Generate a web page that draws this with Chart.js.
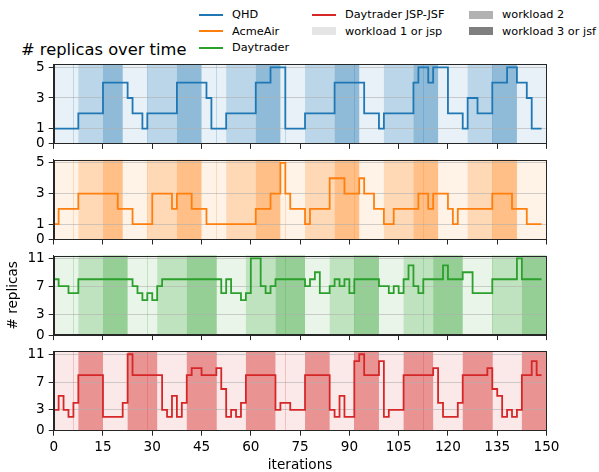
<!DOCTYPE html>
<html>
<head>
<meta charset="utf-8">
<script src="https://cdn.jsdelivr.net/npm/chart.js@4.4.0/dist/chart.umd.min.js"></script>
<style>
  body { margin: 0; background: #fff; }
  #fig { position: relative; width: 599px; height: 472px; font-family: 'DejaVu Sans', sans-serif; color: #000; overflow: hidden; }
  #fig canvas { position: absolute; left: 0; }
  .title { position: absolute; left: 21px; top: 42px; font-size: 16.3px; line-height: 1; white-space: nowrap; }
  .leg { position: absolute; height: 16px; display: flex; align-items: center; font-size: 11.3px; line-height: 1; white-space: nowrap; }
  .leg .line { width: 24px; height: 2px; margin-right: 9px; }
  .leg .patch { width: 24px; height: 8px; margin-right: 9px; }
</style>
</head>
<body>
<div id="fig">
  <div class="title"># replicas over time</div>
</div>
<script>
'use strict';

/*===== Data =====*/
const xMax = 150;
const xStep = 15;

const seriesNames = ['QHD', 'AcmeAir', 'Daytrader', 'Daytrader JSP-JSF'];
const seriesColors = ['#1f77b4', '#ff7f0e', '#2ca02c', '#d62728'];

// replicas change points (iteration, value), drawn as steps
const qhdIters = [0, 7.5, 15, 22.5, 24, 27, 28.5, 37.5, 46.5, 48, 52.5, 61.5, 66, 70.5, 76.5, 85.5, 94.5, 99, 100.5, 109.5, 111, 114, 115.5, 120, 124.5, 126, 129, 133.5, 138, 141, 144, 145.5, 148.5];
const qhdReplicas = [1, 2, 4, 3, 2, 1, 2, 4, 3, 1, 2, 4, 5, 1, 2, 4, 2, 1, 2, 4, 5, 4, 5, 2, 1, 3, 2, 4, 5, 4, 3, 1, 1];

const acmeIters = [0, 1.5, 7.5, 19.5, 24, 30, 36, 37.5, 42, 46.5, 61.5, 66, 69, 70.5, 72, 76.5, 78, 84, 88.5, 93, 94.5, 97.5, 100.5, 103.5, 111, 114, 115.5, 120, 121.5, 123, 133.5, 139.5, 144, 148.5];
const acmeReplicas = [1, 2, 3, 2, 1, 3, 2, 3, 2, 1, 2, 3, 5, 3, 2, 1, 2, 4, 3, 4, 3, 2, 1, 2, 3, 2, 3, 2, 1, 2, 3, 2, 1, 1];

const dayIters = [0, 1.5, 4.5, 7.5, 24, 25.5, 27, 28.5, 30, 31.5, 33, 51, 52.5, 54, 57, 58.5, 60, 63, 64.5, 66, 67.5, 76.5, 78, 79.5, 81, 84, 85.5, 87, 88.5, 90, 91.5, 99, 102, 103.5, 105, 106.5, 108, 109.5, 111, 112.5, 118.5, 120, 124.5, 127.5, 133.5, 141, 142.5, 148.5];
const dayReplicas = [8, 7, 6, 8, 7, 6, 5, 6, 5, 7, 8, 6, 8, 6, 5, 6, 11, 7, 6, 7, 8, 7, 8, 9, 6, 7, 8, 7, 8, 6, 8, 7, 6, 7, 6, 8, 10, 7, 6, 8, 10, 8, 9, 6, 8, 11, 8, 8];

const jspIters = [0, 1.5, 3, 4.5, 6, 7.5, 15, 21, 22.5, 24, 33, 34.5, 36, 37.5, 39, 40.5, 42, 45, 49.5, 51, 52.5, 54, 55.5, 57, 58.5, 67.5, 69, 72, 76.5, 84, 85.5, 87, 88.5, 91.5, 93, 94.5, 99, 100.5, 102, 106.5, 115.5, 117, 118.5, 123, 124.5, 132, 133.5, 135, 136.5, 138, 139.5, 141, 142.5, 145.5, 147, 148.5];
const jspReplicas = [3, 5, 3, 2, 4, 8, 2, 4, 11, 8, 3, 2, 5, 2, 4, 8, 9, 8, 9, 6, 2, 3, 2, 4, 8, 3, 4, 3, 8, 3, 2, 5, 2, 10, 11, 8, 10, 2, 3, 8, 9, 4, 2, 4, 8, 9, 6, 5, 2, 3, 2, 3, 8, 10, 8, 8];

// workload phases: edges + level (1 = workload 1 / jsp, 2 = workload 2, 3 = workload 3 / jsf)
const phaseEdgesA = [0, 7.5, 15, 21, 28.5, 37.5, 45, 52.5, 61.5, 69, 76.5, 85.5, 93, 100.5, 109.5, 117, 126, 133.5, 141, 150];
const phaseLevelsA = [1, 2, 3, 1, 2, 3, 1, 2, 3, 1, 2, 3, 1, 2, 3, 1, 2, 3, 1];
const phaseEdgesB = [0, 7.5, 15, 22.5, 31.5, 40.5, 49.5, 58.5, 67.5, 76.5, 84, 91.5, 99, 106.5, 115.5, 124.5, 133.5, 142.5, 150];
const phaseLevelsDay = [1, 2, 3, 1, 2, 3, 1, 2, 3, 1, 2, 3, 1, 2, 3, 1, 2, 3];
const phaseLevelsJsp = [1, 3, 1, 3, 1, 3, 1, 3, 1, 3, 1, 3, 1, 3, 1, 3, 1, 3];

const markerIters = [6, 28.5, 49.5, 70.5, 91.5, 112.5, 133.5];

const smallTicks = [0, 1, 3, 5];
const bigTicks = [0, 3, 7, 11];

const legendLabels = ['QHD', 'AcmeAir', 'Daytrader', 'Daytrader JSP-JSF', 'workload 1 or jsp', 'workload 2', 'workload 3 or jsf'];

/*===== Styles =====*/
const levelAlpha = [0, 0.1, 0.3, 0.5];
const frameColor = '#262626';
const gridColor = 'rgba(176,176,176,0.6)';
const tickFont = { family: "'DejaVu Sans'", size: 13.6 };

function rgba(hex, a) {
  const n = parseInt(hex.slice(1), 16);
  return `rgba(${n >> 16},${(n >> 8) & 255},${n & 255},${a})`;
}

const panels = [
  { iters: qhdIters, vals: qhdReplicas, yMax: 5.2, yTicks: smallTicks, edges: phaseEdgesA, levels: phaseLevelsA },
  { iters: acmeIters, vals: acmeReplicas, yMax: 5.2, yTicks: smallTicks, edges: phaseEdgesA, levels: phaseLevelsA },
  { iters: dayIters, vals: dayReplicas, yMax: 11.4, yTicks: bigTicks, edges: phaseEdgesB, levels: phaseLevelsDay, yTitle: '# replicas' },
  { iters: jspIters, vals: jspReplicas, yMax: 11.45, yTicks: bigTicks, edges: phaseEdgesB, levels: phaseLevelsJsp }
];

/*===== Legend (3 columns, filled column by column) =====*/
const fig = document.getElementById('fig');
const legCols = [199, 312, 469];
const legRows = [14.5, 31.2, 47.9];
const legPlace = [[0, 0], [0, 1], [0, 2], [1, 0], [1, 1], [2, 0], [2, 1]];
legendLabels.forEach((label, i) => {
  const item = document.createElement('div');
  item.className = 'leg';
  item.style.left = legCols[legPlace[i][0]] + 'px';
  item.style.top = (legRows[legPlace[i][1]] - 8) + 'px';
  const handle = document.createElement('span');
  if (i < 4) {
    handle.className = 'line';
    handle.style.background = seriesColors[i];
  } else {
    handle.className = 'patch';
    handle.style.background = rgba('#000000', levelAlpha[i - 3]);
  }
  const txt = document.createElement('span');
  txt.textContent = label;
  item.appendChild(handle);
  item.appendChild(txt);
  fig.appendChild(item);
});

/*===== Panels =====*/
const panelTop = [64.3, 159.9, 255.5, 351.1];
const plotHeight = 79.6;

function makePanel(i) {
  const p = panels[i];
  const last = i === panels.length - 1;
  const color = seriesColors[i];

  const canvasTop = Math.floor(panelTop[i]) - 4;
  const padTop = panelTop[i] - canvasTop;
  const h = last ? 472 - canvasTop : 92;
  const xAxisHeight = h - padTop - plotHeight;

  const canvas = document.createElement('canvas');
  canvas.width = 599;
  canvas.height = h;
  canvas.style.top = canvasTop + 'px';
  fig.appendChild(canvas);

  const phasePlugin = {
    id: 'phases' + i,
    beforeDraw(chart) {
      const { ctx, chartArea: a, scales: { x } } = chart;
      ctx.save();
      for (let k = 0; k < p.levels.length; k++) {
        const x0 = x.getPixelForValue(p.edges[k]);
        const x1 = x.getPixelForValue(p.edges[k + 1]);
        ctx.fillStyle = rgba(color, levelAlpha[p.levels[k]]);
        ctx.fillRect(x0, a.top, x1 - x0, a.bottom - a.top);
      }
      ctx.restore();
    },
    beforeDatasetsDraw(chart) {
      const { ctx, chartArea: a, scales: { x } } = chart;
      ctx.save();
      ctx.strokeStyle = rgba(color, 0.22);
      ctx.lineWidth = 1;
      markerIters.forEach(m => {
        const px = Math.round(x.getPixelForValue(m)) + 0.5;
        ctx.beginPath();
        ctx.moveTo(px, a.top);
        ctx.lineTo(px, a.bottom);
        ctx.stroke();
      });
      ctx.restore();
    },
    afterDraw(chart) {
      const { ctx, chartArea: a } = chart;
      ctx.save();
      ctx.strokeStyle = frameColor;
      ctx.lineWidth = 1;
      const l = Math.round(a.left) + 0.5, r = Math.round(a.right) - 0.5;
      const t = Math.round(a.top) + 0.5, b = Math.round(a.bottom) - 0.5;
      ctx.strokeRect(l, t, r - l, b - t);
      ctx.restore();
    }
  };

  const noPad = axis => {
    axis.paddingTop = 0; axis.paddingBottom = 0;
    axis.paddingLeft = 0; axis.paddingRight = 0;
  };

  return new Chart(canvas.getContext('2d'), {
    type: 'line',
    data: {
      datasets: [{
        label: seriesNames[i],
        data: p.iters.map((it, k) => ({ x: it, y: p.vals[k] })),
        borderColor: color,
        borderWidth: 1.8,
        pointRadius: 0,
        stepped: 'before',
        fill: false
      }]
    },
    options: {
      responsive: false,
      animation: false,
      devicePixelRatio: 1,
      layout: { padding: { left: 0, right: 52.5, top: padTop, bottom: 0 } },
      plugins: {
        legend: { display: false },
        tooltip: { enabled: false }
      },
      scales: {
        x: {
          type: 'linear',
          min: 0,
          max: xMax,
          afterFit: axis => { axis.height = xAxisHeight; noPad(axis); },
          ticks: { stepSize: xStep, display: last, font: tickFont, color: '#000', padding: 3.5, maxRotation: 0, autoSkip: false },
          grid: { drawOnChartArea: false, drawTicks: true, tickLength: 5, color: frameColor, tickColor: frameColor },
          border: { color: frameColor, width: 1 },
          title: { display: last, text: 'iterations', font: tickFont, color: '#000', padding: { top: 0, bottom: -2 } }
        },
        y: {
          min: 0,
          max: p.yMax,
          afterBuildTicks: axis => { axis.ticks = p.yTicks.map(v => ({ value: v })); },
          afterFit: axis => { axis.width = 53.7; noPad(axis); },
          ticks: { font: tickFont, color: '#000', padding: 4 },
          grid: { color: gridColor, lineWidth: 1, tickLength: 5, tickColor: frameColor },
          border: { color: frameColor, width: 1 },
          title: { display: !!p.yTitle, text: p.yTitle || '', font: tickFont, color: '#000', padding: { top: 5, bottom: 0 } }
        }
      }
    },
    plugins: [phasePlugin]
  });
}

panels.forEach((p, i) => makePanel(i));
</script>
</body>
</html>
